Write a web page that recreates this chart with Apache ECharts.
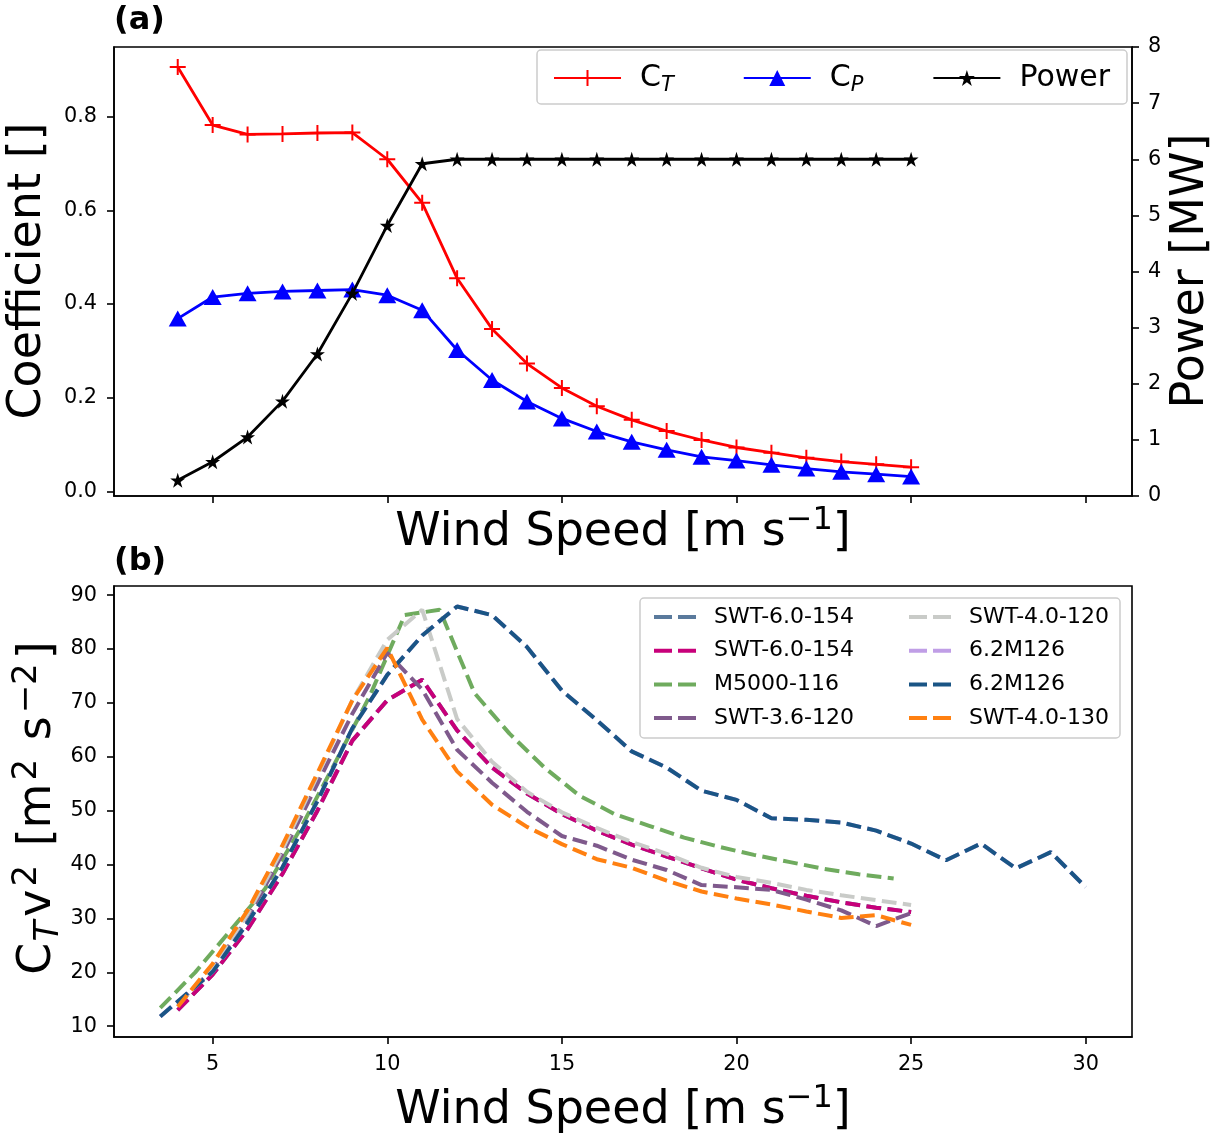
<!DOCTYPE html>
<html>
<head>
<meta charset="utf-8">
<script src="https://cdn.jsdelivr.net/npm/echarts@6/dist/echarts.min.js"></script>
<style>
  html, body { margin: 0; padding: 0; background: #fff; }
  #chart { width: 1225px; height: 1135px; }
</style>
</head>
<body>
<div id="chart"></div>
<script>
// ---- Panel (a): reference turbine coefficients and power ----
const windTop = [4, 5, 6, 7, 8, 9, 10, 11, 12, 13, 14, 15, 16, 17, 18, 19, 20, 21, 22, 23, 24, 25];
const thrustCoef = [0.906, 0.782, 0.762, 0.763, 0.765, 0.766, 0.709, 0.616, 0.455, 0.347, 0.273,
                    0.221, 0.182, 0.153, 0.129, 0.110, 0.094, 0.083, 0.072, 0.064, 0.058, 0.052];
const powerCoef = [0.369, 0.415, 0.423, 0.427, 0.429, 0.431, 0.419, 0.387, 0.302, 0.238, 0.192,
                   0.156, 0.128, 0.106, 0.089, 0.074, 0.066, 0.057, 0.049, 0.042, 0.037, 0.032];
const powerMW = [0.28, 0.61, 1.05, 1.69, 2.53, 3.61, 4.82, 5.92, 6.0, 6.0, 6.0,
                 6.0, 6.0, 6.0, 6.0, 6.0, 6.0, 6.0, 6.0, 6.0, 6.0, 6.0];

// ---- Panel (b): C_T * v^2 for several commercial turbines ----
const windInt = [4, 5, 6, 7, 8, 9, 10, 11, 12, 13, 14, 15, 16, 17, 18, 19, 20, 21, 22, 23, 24, 25];
const windHalf = [3.5, 4.5, 5.5, 6.5, 7.5, 8.5, 9.5, 10.5, 11.5, 12.5, 13.5, 14.5, 15.5, 16.5,
                  17.5, 18.5, 19.5, 20.5, 21.5, 22.5, 23.5, 24.5];
const windLong = [3.5, 4, 5, 6, 7, 8, 9, 10, 11, 12, 13, 14, 15, 16, 17, 18, 19, 20, 21, 22, 23,
                  24, 25, 26, 27, 28, 29, 30];

const swt60154 = [13.0, 19.6, 28.0, 38.3, 50.0, 63.0, 70.5, 74.3, 64.9, 58.0, 53.2,
                  49.4, 46.3, 43.7, 41.5, 39.3, 37.2, 35.6, 34.2, 33.0, 32.0, 31.2];
const m5000116 = [13.4, 20.0, 27.7, 35.5, 46.5, 58.8, 71.3, 86.3, 87.3, 71.8, 64.3,
                  58.0, 52.8, 49.4, 47.2, 45.0, 43.3, 41.8, 40.5, 39.2, 38.2, 37.4];
const swt36120 = [14.2, 20.5, 30.0, 42.0, 55.0, 68.0, 79.3, 72.5, 61.3, 55.2, 49.8,
                  45.3, 43.5, 40.9, 39.0, 36.2, 35.8, 35.3, 33.5, 31.5, 28.6, 31.0];
const swt40120 = [13.8, 21.0, 30.8, 42.8, 56.5, 70.5, 81.7, 87.3, 67.0, 59.1, 53.5,
                  49.7, 46.8, 44.2, 42.0, 39.4, 37.7, 36.6, 35.3, 34.3, 33.4, 32.5];
const m62126 = [11.8, 14.6, 20.1, 29.2, 39.5, 51.8, 65.3, 75.2, 82.5, 87.9, 86.3, 80.4, 72.3, 66.8,
                61.0, 58.0, 53.7, 52.0, 48.6, 48.3, 47.8, 46.3, 43.9, 40.8, 43.9, 39.3, 42.3, 35.8];
const swt40130 = [13.6, 21.6, 31.5, 43.6, 57.0, 70.5, 80.2, 66.9, 57.3, 51.1, 47.0,
                  43.8, 41.0, 39.4, 37.0, 35.0, 33.7, 32.6, 31.3, 30.1, 30.6, 28.8];

const xTicks = [5, 10, 15, 20, 25, 30];
const coefTicks = [0, 0.2, 0.4, 0.6, 0.8];
const ctv2Ticks = [10, 20, 30, 40, 50, 60, 70, 80, 90];

const FONT = 'DejaVu Sans';
const zip = (xs, ys) => xs.map((x, i) => [x, ys[i]]);

// marker shapes
const PLUS = 'path://M7,0h2v7h7v2h-7v7h-2v-7h-7v-2h7z';
const STAR = 'path://M50,0L61.23,34.55L97.55,34.55L68.17,55.9L79.39,90.45L50,69.1L20.61,90.45L31.83,55.9L2.45,34.55L38.77,34.55Z';

const axisLineStyle = { color: '#000', width: 1.6 };
const tickStyle = { length: 7, lineStyle: { color: '#000', width: 1.6 } };
const labelStyle = { color: '#000', fontFamily: FONT, fontSize: 20.8 };

function dashed(name, color, xs, ys) {
  return {
    name: name, type: 'line', xAxisIndex: 1, yAxisIndex: 2,
    data: zip(xs, ys), symbol: 'none', smooth: false,
    lineStyle: { color: color, width: 4, type: [14.8, 6.4], cap: 'butt' },
    itemStyle: { color: color },
    emphasis: { disabled: true }, animation: false
  };
}

const curveNames = ['SWT-6.0-154#1', 'SWT-6.0-154#2', 'M5000-116', 'SWT-3.6-120',
                    'SWT-4.0-120', '6.2M126#1', '6.2M126#2', 'SWT-4.0-130'];
const stripTag = n => n.split('#')[0];

const series = [
  {
    name: 'CT', type: 'line', xAxisIndex: 0, yAxisIndex: 0, data: zip(windTop, thrustCoef),
    symbol: PLUS, symbolSize: 16, lineStyle: { color: '#ff0000', width: 2.8 },
    itemStyle: { color: '#ff0000' }, z: 3, animation: false
  },
  {
    name: 'CP', type: 'line', xAxisIndex: 0, yAxisIndex: 0, data: zip(windTop, powerCoef),
    symbol: 'triangle', symbolSize: [18, 16], lineStyle: { color: '#0000ff', width: 2.8 },
    itemStyle: { color: '#0000ff' }, z: 3, animation: false
  },
  {
    name: 'Power', type: 'line', xAxisIndex: 0, yAxisIndex: 1, data: zip(windTop, powerMW),
    symbol: STAR, symbolSize: 15, lineStyle: { color: '#000000', width: 2.8 },
    itemStyle: { color: '#000000' }, z: 4, animation: false
  },
  dashed(curveNames[0], '#5a7a9c', windInt, swt60154),
  dashed(curveNames[1], '#c8007a', windInt, swt60154),
  dashed(curveNames[2], '#6fab5e', windHalf, m5000116),
  dashed(curveNames[3], '#7f5a8c', windInt, swt36120),
  dashed(curveNames[4], '#c9cbc8', windInt, swt40120),
  dashed(curveNames[5], '#c09ee6', windLong, m62126),
  dashed(curveNames[6], '#1a5585', windLong, m62126),
  dashed(curveNames[7], '#ff8011', windInt, swt40130)
];

const bigText = { fontFamily: FONT, fontSize: 46, lineHeight: 56, fill: '#000' };
const supText = { fontFamily: FONT, fontSize: 32, lineHeight: 32, verticalAlign: 'top', fill: '#000' };
// math-style scripts in the C_T v^2 label get a little extra room around them
const supWide = { fontFamily: FONT, fontSize: 34, lineHeight: 32, verticalAlign: 'top', fill: '#000', padding: [0, 4, 0, 3] };
const subWide = { fontFamily: FONT, fontSize: 34, lineHeight: 32, verticalAlign: 'bottom', fontStyle: 'italic', fill: '#000', padding: [0, 4, 0, 1] };

function windTitle(y) {
  return {
    type: 'text', x: 623, y: y, z: 10,
    style: {
      text: '{b|Wind Speed [m s}{p|\u22121}{b|]}',
      align: 'center', verticalAlign: 'middle',
      rich: { b: bigText, p: supText }
    }
  };
}

const dashedLegend = (names, left) => ({
  data: names, orient: 'vertical', left: left, top: 601,
  itemWidth: 42, itemHeight: 14, itemGap: 11.7, z: 20,
  formatter: stripTag,
  itemStyle: { opacity: 0 },
  lineStyle: { width: 4, type: [18, 6], cap: 'butt' },
  textStyle: { color: '#000', fontFamily: FONT, fontSize: 22, lineHeight: 22, padding: [0, 0, 0, 13] },
  selectedMode: false
});

const option = {
  backgroundColor: '#ffffff',
  animation: false,
  grid: [
    { left: 114, top: 47, width: 1018, height: 449, show: true, borderColor: '#000', borderWidth: 1.6, backgroundColor: 'transparent' },
    { left: 114, top: 586, width: 1018, height: 451, show: true, borderColor: '#000', borderWidth: 1.6, backgroundColor: 'transparent' }
  ],
  xAxis: [
    {
      gridIndex: 0, type: 'value', min: 2.175, max: 31.325,
      axisLine: { show: true, onZero: false, lineStyle: axisLineStyle },
      axisTick: Object.assign({ show: true, customValues: xTicks }, tickStyle),
      axisLabel: { show: false }, splitLine: { show: false }
    },
    {
      gridIndex: 1, type: 'value', min: 2.175, max: 31.325,
      axisLine: { show: true, onZero: false, lineStyle: axisLineStyle },
      axisTick: Object.assign({ show: true, customValues: xTicks }, tickStyle),
      axisLabel: Object.assign({ show: true, margin: 17, customValues: xTicks }, labelStyle),
      splitLine: { show: false }
    }
  ],
  yAxis: [
    {
      gridIndex: 0, type: 'value', position: 'left', min: -0.0095, max: 0.9485,
      axisLine: { show: true, onZero: false, lineStyle: axisLineStyle },
      axisTick: Object.assign({ show: true, customValues: coefTicks }, tickStyle),
      axisLabel: Object.assign({ show: true, margin: 17, customValues: coefTicks,
                                 formatter: v => v.toFixed(1) }, labelStyle),
      splitLine: { show: false }
    },
    {
      gridIndex: 0, type: 'value', position: 'right', min: 0, max: 8, interval: 1,
      axisLine: { show: true, onZero: false, lineStyle: axisLineStyle },
      axisTick: Object.assign({ show: true }, tickStyle),
      axisLabel: Object.assign({ show: true, margin: 16, showMinLabel: true, showMaxLabel: true }, labelStyle),
      splitLine: { show: false }
    },
    {
      gridIndex: 1, type: 'value', position: 'left', min: 8.0, max: 91.7,
      axisLine: { show: true, onZero: false, lineStyle: axisLineStyle },
      axisTick: Object.assign({ show: true, customValues: ctv2Ticks }, tickStyle),
      axisLabel: Object.assign({ show: true, margin: 17, customValues: ctv2Ticks }, labelStyle),
      splitLine: { show: false }
    }
  ],
  legend: [
    {
      data: ['CT', 'CP', 'Power'], orient: 'horizontal', left: 548, top: 58,
      itemWidth: 67, itemHeight: 20, itemGap: 69, z: 20,
      formatter: n => n === 'CT' ? '{b|C}{s|T}' : (n === 'CP' ? '{b|C}{s|P}' : '{b|Power}'),
      textStyle: {
        color: '#000', fontFamily: FONT, fontSize: 30, padding: [0, 0, 0, 14],
        rich: {
          b: { fontFamily: FONT, fontSize: 30, lineHeight: 36, color: '#000' },
          s: { fontFamily: FONT, fontSize: 21, lineHeight: 22, verticalAlign: 'bottom', fontStyle: 'italic', color: '#000' }
        }
      },
      selectedMode: false
    },
    dashedLegend(curveNames.slice(0, 4), 647),
    dashedLegend(curveNames.slice(4, 8), 902)
  ],
  graphic: [
    { type: 'rect', z: 15, shape: { x: 537, y: 50, width: 590, height: 54, r: 4 },
      style: { fill: 'rgba(255,255,255,0.8)', stroke: '#cccccc', lineWidth: 1.5 } },
    { type: 'rect', z: 15, shape: { x: 640, y: 598, width: 480, height: 140, r: 4 },
      style: { fill: 'rgba(255,255,255,0.8)', stroke: '#cccccc', lineWidth: 1.5 } },
    { type: 'text', x: 114, y: 21, z: 10,
      style: { text: '(a)', fontFamily: FONT, fontSize: 32, fontWeight: 'bold', fill: '#000', align: 'left', verticalAlign: 'middle' } },
    { type: 'text', x: 114, y: 562, z: 10,
      style: { text: '(b)', fontFamily: FONT, fontSize: 32, fontWeight: 'bold', fill: '#000', align: 'left', verticalAlign: 'middle' } },
    windTitle(533),
    windTitle(1111),
    { type: 'text', x: 28, y: 271, rotation: Math.PI / 2, z: 10,
      style: { text: 'Coefficient []', fontFamily: FONT, fontSize: 46, fill: '#000', align: 'center', verticalAlign: 'middle' } },
    { type: 'text', x: 1191, y: 271, rotation: Math.PI / 2, z: 10,
      style: { text: 'Power [MW]', fontFamily: FONT, fontSize: 46, fill: '#000', align: 'center', verticalAlign: 'middle' } },
    { type: 'text', x: 38, y: 808, rotation: Math.PI / 2, z: 10,
      style: {
        text: '{b|C}{s|T}{b|v}{p|2}{b| [m}{p|2}{b| s}{p|\u22122}{b|]}',
        align: 'center', verticalAlign: 'middle',
        rich: { b: bigText, p: supWide, s: subWide }
      } }
  ],
  series: series
};

const chart = echarts.init(document.getElementById('chart'), null, { renderer: 'canvas' });
chart.setOption(option);
</script>
</body>
</html>
